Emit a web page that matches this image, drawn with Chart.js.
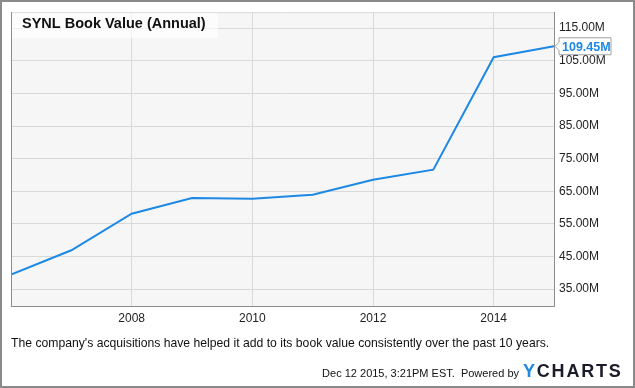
<!DOCTYPE html>
<html>
<head>
<meta charset="utf-8">
<script src="https://cdn.jsdelivr.net/npm/chart.js@4/dist/chart.umd.min.js"></script>
<style>
  html, body { margin: 0; padding: 0; background: #fff; }
  #wrap { width: 635px; height: 388px; position: relative; }
</style>
</head>
<body>
<div id="wrap"><canvas id="Grafico1" width="635" height="388"></canvas></div>
<script>
// data
let anios = [2006, 2007, 2008, 2009, 2010, 2011, 2012, 2013, 2014, 2015];
let valores = [39.4, 46.9, 58.1, 62.9, 62.7, 63.9, 68.5, 71.6, 106.1, 109.45];
let ticksX = [2008, 2010, 2012, 2014];
let ticksY = [35, 45, 55, 65, 75, 85, 95, 105, 115];
let titulo = 'SYNL Book Value (Annual)';
let nota = "The company's acquisitions have helped it add to its book value consistently over the past 10 years.";
let pie = 'Dec 12 2015, 3:21PM EST.  Powered by';

const azul = '#1e88e5';
const fuente = '"Liberation Sans", Arial, sans-serif';

let puntos = anios.map((a, i) => ({x: a, y: valores[i]}));

let fondo = {
    id: 'fondo',
    beforeDraw(chart){
        let ctx = chart.ctx, a = chart.chartArea;
        ctx.save();
        ctx.fillStyle = '#fff';
        ctx.fillRect(0, 0, chart.width, chart.height);
        ctx.fillStyle = '#f6f6f6';
        ctx.fillRect(a.left, a.top, a.right - a.left, a.bottom - a.top);
        ctx.restore();
    },
    afterDraw(chart){
        let ctx = chart.ctx, a = chart.chartArea;
        ctx.save();
        // top and left border of the plot
        ctx.strokeStyle = '#d9d9d9';
        ctx.lineWidth = 1;
        ctx.beginPath();
        ctx.moveTo(a.left, a.top + 0.5);
        ctx.lineTo(a.right, a.top + 0.5);
        ctx.stroke();
        ctx.strokeStyle = '#8c8c8c';
        ctx.beginPath();
        ctx.moveTo(a.left + 0.5, a.top);
        ctx.lineTo(a.left + 0.5, a.bottom);
        ctx.stroke();

        // title box
        ctx.fillStyle = 'rgba(255,255,255,0.65)';
        ctx.fillRect(a.left + 1, a.top + 1, 206, 25);
        ctx.fillStyle = '#111';
        ctx.font = 'bold 14.5px ' + fuente;
        ctx.textBaseline = 'middle';
        ctx.textAlign = 'left';
        ctx.fillText(titulo, 22, 24);

        // last value flag
        let ds = chart.getDatasetMeta(0).data;
        let ult = ds[ds.length - 1];
        let px = ult.x, py = ult.y;
        let bx = px + 5, bw = 52, bh = 17;
        ctx.fillStyle = '#fff';
        ctx.strokeStyle = '#a0a0a0';
        ctx.beginPath();
        ctx.moveTo(px + 1, py);
        ctx.lineTo(bx, py - 4);
        ctx.lineTo(bx, py - bh / 2);
        ctx.lineTo(bx + bw, py - bh / 2);
        ctx.lineTo(bx + bw, py + bh / 2);
        ctx.lineTo(bx, py + bh / 2);
        ctx.lineTo(bx, py + 4);
        ctx.closePath();
        ctx.fill();
        ctx.stroke();
        ctx.fillStyle = azul;
        ctx.font = 'bold 12.5px ' + fuente;
        ctx.fillText(valores[valores.length - 1].toFixed(2) + 'M', bx + 3, py + 1);

        // caption and footer
        ctx.fillStyle = '#111';
        ctx.font = '12.2px ' + fuente;
        ctx.fillText(nota, 11, 344);
        ctx.font = '11px ' + fuente;
        ctx.textAlign = 'right';
        ctx.fillText(pie, 519, 374);
        ctx.textAlign = 'left';
        ctx.font = 'bold 18px ' + fuente;
        let letras = 'YCHARTS'.split('');
        let x = 523;
        letras.forEach((l, i) => {
            ctx.fillStyle = i == 0 ? azul : '#1b1b2a';
            ctx.fillText(l, x, 372);
            x += ctx.measureText(l).width + 1.8;
        });

        // outer frame
        ctx.strokeStyle = '#8a8a8a';
        ctx.lineWidth = 2;
        ctx.strokeRect(1, 1, chart.width - 2, chart.height - 2);
        ctx.restore();
    }
};

let CanvasG1 = document.getElementById('Grafico1').getContext('2d');
let G1 = new Chart(CanvasG1, {
    type: 'line',
    data: {
        datasets: [{
            data: puntos,
            borderColor: azul,
            borderWidth: 2,
            pointRadius: 0,
            tension: 0,
            fill: false
        }]
    },
    options: {
        responsive: false,
        animation: false,
        layout: { padding: { left: 11, top: 11, right: 0, bottom: 0 } },
        plugins: { legend: { display: false }, tooltip: { enabled: false } },
        scales: {
            x: {
                type: 'linear',
                min: 2006,
                max: 2015,
                afterBuildTicks: s => { s.ticks = ticksX.map(v => ({value: v})); },
                afterFit: s => { s.height = 82; },
                grid: { color: '#d9d9d9', drawTicks: false },
                border: { color: '#8c8c8c', width: 1 },
                ticks: {
                    padding: 5,
                    color: '#222',
                    font: { family: fuente, size: 12 },
                    callback: v => String(v)
                }
            },
            y: {
                position: 'right',
                min: 29.8,
                max: 119.9,
                afterBuildTicks: s => { s.ticks = ticksY.map(v => ({value: v})); },
                afterFit: s => { s.width = 81; },
                grid: { color: '#d9d9d9', drawTicks: false },
                border: { color: '#8c8c8c', width: 1 },
                ticks: {
                    padding: 5,
                    color: '#222',
                    font: { family: fuente, size: 12 },
                    callback: v => v.toFixed(2) + 'M'
                }
            }
        }
    },
    plugins: [fondo]
});
</script>
</body>
</html>
